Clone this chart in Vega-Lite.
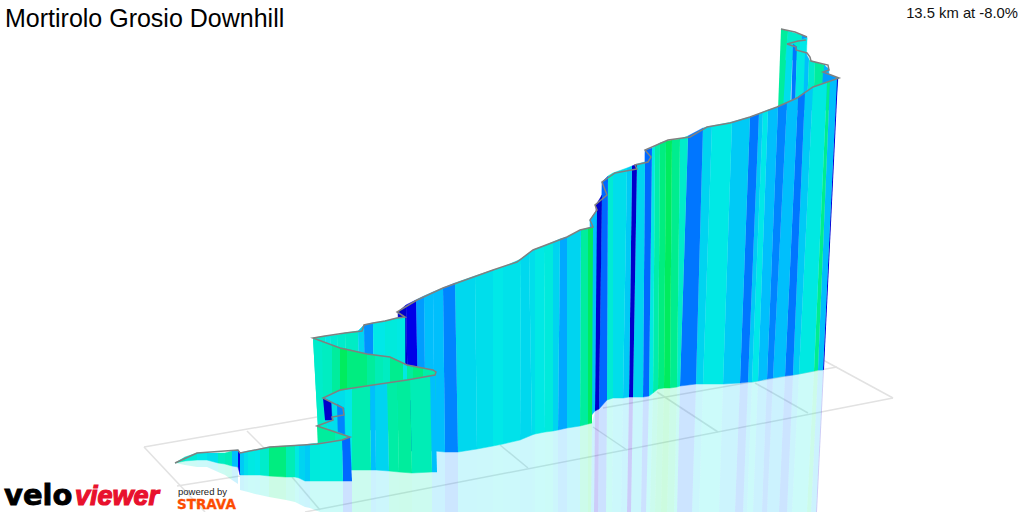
{
"$schema":"https://vega.github.io/schema/vega-lite/v6.json",
"width":1024,"height":512,"padding":0,"autosize":{"type":"none"},"background":"white",
"view":{"stroke":null},
"config":{"font":"Liberation Sans"},
"datasets":{
"grid":[
{"x":144,"y":447,"x2":317,"y2":417},{"x":144,"y":447,"x2":205,"y2":512},{"x":177,"y":486,"x2":240,"y2":476},{"x":247,"y":431,"x2":267,"y2":451},{"x":292,"y":477,"x2":320,"y2":510},
{"x":893,"y":398,"x2":305,"y2":512},{"x":893,"y":398,"x2":823,"y2":360},{"x":808,"y":413,"x2":755,"y2":383},{"x":718,"y":432,"x2":657,"y2":392},{"x":627,"y":450,"x2":593,"y2":427},{"x":528,"y":468,"x2":500,"y2":445},{"x":603,"y":408,"x2":837,"y2":367}
],
"mirror":[
{"b":1,"g":-17,"x":[824,823,816,817],"y":[369,370,512,512]},
{"b":2,"g":-9.5,"x":[823,818,811,816],"y":[370,370,512,512]},
{"b":3,"g":-3,"x":[818,814,807,811],"y":[370,371,512,512]},
{"b":4,"g":-7,"x":[814,799,792,807],"y":[371,374,512,512]},
{"b":5,"g":-9,"x":[799,793,787,792],"y":[374,375,512,512]},
{"b":6,"g":-12.5,"x":[793,785,779,787],"y":[375,376,512,512]},
{"b":7,"g":-9.5,"x":[785,773,767,779],"y":[376,378,512,512]},
{"b":8,"g":-12,"x":[773,767,762,767],"y":[378,379,512,512]},
{"b":9,"g":-9.5,"x":[767,758,753,762],"y":[379,381,512,512]},
{"b":10,"g":-7.5,"x":[758,752,747,753],"y":[381,382,512,512]},
{"b":11,"g":-9,"x":[752,748,743,747],"y":[382,382,512,512]},
{"b":12,"g":-12.5,"x":[748,740,735,743],"y":[382,383,512,512]},
{"b":13,"g":-9,"x":[740,723,719,735],"y":[383,384,512,512]},
{"b":14,"g":-7.2,"x":[723,703,699,719],"y":[384,384,512,512]},
{"b":15,"g":-8.5,"x":[703,696,692,699],"y":[384,384,512,512]},
{"b":16,"g":-12.5,"x":[696,680,677,692],"y":[384,386,512,512]},
{"b":17,"g":-5.5,"x":[680,677,674,677],"y":[386,387,512,512]},
{"b":18,"g":-3,"x":[677,670,667,674],"y":[387,388,512,512]},
{"b":19,"g":-1.5,"x":[670,664,661,667],"y":[388,388,512,512]},
{"b":20,"g":-2.5,"x":[664,658,655,661],"y":[388,389,512,512]},
{"b":21,"g":-4,"x":[658,653,650,655],"y":[389,393,512,512]},
{"b":22,"g":-7,"x":[653,649,646,650],"y":[393,396,512,512]},
{"b":23,"g":-13,"x":[649,643,641,646],"y":[396,397,512,512]},
{"b":24,"g":-8.5,"x":[643,633,631,641],"y":[397,397,512,512]},
{"b":25,"g":-15.5,"x":[633,629,627,631],"y":[397,397,512,512]},
{"b":26,"g":-9,"x":[629,623,621,627],"y":[397,398,512,512]},
{"b":27,"g":-8,"x":[623,613,612,621],"y":[398,398,512,512]},
{"b":28,"g":-6,"x":[613,607,606,612],"y":[398,400,512,512]},
{"b":29,"g":-13,"x":[607,599,598,606],"y":[400,409,512,512]},
{"b":30,"g":-16,"x":[599,595,594,598],"y":[409,411,512,512]},
{"b":31,"g":-9.5,"x":[595,592,591,594],"y":[411,423,512,512]},
{"b":32,"g":-1.5,"x":[592,588,588,591],"y":[423,424,512,512]},
{"b":33,"g":-3.5,"x":[588,580,580,588],"y":[424,426,512,512]},
{"b":34,"g":-8.5,"x":[580,567,567,580],"y":[426,428,512,512]},
{"b":35,"g":-10.5,"x":[567,558,558,567],"y":[428,430,512,512]},
{"b":36,"g":-8.5,"x":[558,553,553,558],"y":[430,431,512,512]},
{"b":37,"g":-6.5,"x":[553,545,545,553],"y":[431,432,512,512]},
{"b":38,"g":-7.2,"x":[545,535,535,545],"y":[432,434,512,512]},
{"b":39,"g":-8,"x":[535,532,532,535],"y":[434,435,512,512]},
{"b":40,"g":-8.3,"x":[532,520,520,532],"y":[435,440,512,512]},
{"b":41,"g":-7.8,"x":[520,503,503,520],"y":[440,444,512,512]},
{"b":42,"g":-7.5,"x":[503,493,493,503],"y":[444,446,512,512]},
{"b":43,"g":-8,"x":[493,477,477,493],"y":[446,449,512,512]},
{"b":44,"g":-8.3,"x":[477,458,458,477],"y":[449,452,512,512]},
{"b":45,"g":-12,"x":[458,445,445,458],"y":[452,452,512,512]},
{"b":46,"g":-9.5,"x":[445,437,437,445],"y":[452,451,512,512]},
{"b":47,"g":-9.5,"x":[437,432,432,437],"y":[472,472,512,512]},
{"b":48,"g":-4.5,"x":[432,412,412,432],"y":[472,473,512,512]},
{"b":49,"g":-3.5,"x":[412,399,399,412],"y":[473,472,512,512]},
{"b":50,"g":-3.8,"x":[399,389,389,399],"y":[472,471,512,512]},
{"b":51,"g":-8.5,"x":[389,376,376,389],"y":[471,470,512,512]},
{"b":52,"g":-9.5,"x":[376,371,371,376],"y":[470,470,512,512]},
{"b":53,"g":-4.3,"x":[371,352,352,371],"y":[470,470,512,512]},
{"b":54,"g":-13,"x":[352,343,343,352],"y":[481,481,512,512]},
{"b":55,"g":-6.5,"x":[343,330,330,343],"y":[481,481,512,512]},
{"b":56,"g":-7,"x":[330,320,320,330],"y":[481,481,512,512]},
{"b":57,"g":-6.5,"x":[320,310,310,320],"y":[481,481,508,512]},
{"b":58,"g":-9,"x":[310,305,305,310],"y":[481,481,507,508]},
{"b":59,"g":-8.5,"x":[305,299,299,305],"y":[481,478,504,507]},
{"b":60,"g":-7,"x":[299,295,295,299],"y":[478,477,502,504]},
{"b":61,"g":-4.5,"x":[295,286,286,295],"y":[477,477,500,502]},
{"b":62,"g":-2.5,"x":[286,269,269,286],"y":[477,476,497,500]},
{"b":63,"g":-5.5,"x":[269,260,260,269],"y":[476,475,495,497]},
{"b":64,"g":-7.5,"x":[260,255,255,260],"y":[475,475,494,495]},
{"b":65,"g":-7,"x":[255,248,248,255],"y":[475,475,492,494]},
{"b":66,"g":-8,"x":[248,244,244,248],"y":[475,475,491,492]},
{"b":67,"g":-9,"x":[244,240,240,244],"y":[475,475,490,491]},
{"b":68,"g":-9.5,"x":[238,232,232,238],"y":[467,466,480,484]},
{"b":69,"g":-4.5,"x":[232,225,225,232],"y":[466,464,475,480]},
{"b":70,"g":-5,"x":[225,218,218,225],"y":[464,463,472,475]},
{"b":71,"g":-8,"x":[218,207,207,218],"y":[463,460,467,472]},
{"b":72,"g":-7.5,"x":[207,197,197,207],"y":[460,460,467,467]},
{"b":73,"g":-6,"x":[197,185,185,197],"y":[460,461,465,467]},
{"b":74,"g":-5,"x":[185,175,175,185],"y":[461,463,463,465]}
],
"walls":[
{"b":1,"g":-3.5,"x":[781,788,785,778],"y":[29,31,110,110]},
{"b":2,"g":-5.5,"x":[788,802,801,785],"y":[31,35,60,60]},
{"b":3,"g":-11,"x":[802,807,806,801],"y":[35,37,45,45]},
{"b":4,"g":-7.5,"x":[800,807,805,798],"y":[40,38,100,100]},
{"b":5,"g":-8,"x":[787,793,790,783],"y":[43,44,110,110]},
{"b":6,"g":-12.5,"x":[793,797,795,791],"y":[44,47,110,110]},
{"b":7,"g":-7,"x":[797,805,803,795],"y":[47,52,110,110]},
{"b":8,"g":-9.5,"x":[805,809,807,803],"y":[52,59,110,110]},
{"b":9,"g":-5.5,"x":[809,815,813,807],"y":[60,62,110,110]},
{"b":10,"g":-3.5,"x":[815,825,823,813],"y":[62,65,110,110]},
{"b":11,"g":-10,"x":[824,829,827,822],"y":[65,69,110,110]},
{"b":12,"g":-11,"x":[823,838,835,821],"y":[72,78,110,110]},
{"b":20,"g":-17,"x":[838,837,823,824],"y":[78,78,370,369]},
{"b":21,"g":-9.5,"x":[837,830,818,823],"y":[78,81,370,370]},
{"b":22,"g":-3,"x":[830,827,814,818],"y":[81,82,371,370]},
{"b":23,"g":-7,"x":[827,813,799,814],"y":[82,87,374,371]},
{"b":24,"g":-9,"x":[813,805,793,799],"y":[87,92,375,374]},
{"b":25,"g":-12.5,"x":[805,798,785,793],"y":[92,97,376,375]},
{"b":26,"g":-9.5,"x":[798,787,773,785],"y":[97,103,378,376]},
{"b":27,"g":-12,"x":[787,778,767,773],"y":[103,107,379,378]},
{"b":28,"g":-9.5,"x":[778,768,758,767],"y":[107,110,381,379]},
{"b":29,"g":-7.5,"x":[768,763,752,758],"y":[110,112,382,381]},
{"b":30,"g":-9,"x":[763,759,748,752],"y":[112,114,382,382]},
{"b":31,"g":-12.5,"x":[759,750,740,748],"y":[114,117,383,382]},
{"b":32,"g":-9,"x":[750,732,723,740],"y":[117,122,384,383]},
{"b":33,"g":-7.2,"x":[732,712,703,723],"y":[122,126,384,384]},
{"b":34,"g":-8.5,"x":[712,703,696,703],"y":[126,128,384,384]},
{"b":35,"g":-12.5,"x":[703,688,680,696],"y":[128,136,386,384]},
{"b":36,"g":-5.5,"x":[688,680,677,680],"y":[136,139,387,386]},
{"b":37,"g":-3,"x":[680,672,670,677],"y":[139,140,388,387]},
{"b":38,"g":-1.5,"x":[672,666,664,670],"y":[140,141,388,388]},
{"b":39,"g":-2.5,"x":[666,660,658,664],"y":[141,143,389,388]},
{"b":40,"g":-4,"x":[660,655,653,658],"y":[143,146,393,389]},
{"b":41,"g":-7,"x":[655,652,649,653],"y":[146,148,396,393]},
{"b":42,"g":-13,"x":[652,645,643,649],"y":[148,150,397,396]},
{"b":43,"g":-8.5,"x":[645,637,633,643],"y":[162,164,397,397]},
{"b":44,"g":-18,"x":[637,632,629,633],"y":[164,166,397,397]},
{"b":45,"g":-9,"x":[632,627,623,629],"y":[166,168,398,397]},
{"b":46,"g":-8,"x":[627,613,613,623],"y":[168,173,398,398]},
{"b":47,"g":-6,"x":[613,608,607,613],"y":[173,176,400,398]},
{"b":48,"g":-13,"x":[608,602,599,607],"y":[176,182,409,400]},
{"b":49,"g":-18,"x":[602,596,595,599],"y":[195,205,411,409]},
{"b":50,"g":-9.5,"x":[597,590,590,595],"y":[210,220,417,411]},
{"b":51,"g":-1.5,"x":[593,588,588,592],"y":[227,228,424,423]},
{"b":52,"g":-3.5,"x":[588,581,580,588],"y":[228,230,426,424]},
{"b":53,"g":-8.5,"x":[581,567,567,580],"y":[230,237,428,426]},
{"b":54,"g":-10.5,"x":[567,560,558,567],"y":[237,239,430,428]},
{"b":55,"g":-8.5,"x":[560,553,553,558],"y":[239,242,431,430]},
{"b":56,"g":-6.5,"x":[553,544,545,553],"y":[242,246,432,431]},
{"b":57,"g":-7.2,"x":[544,535,535,545],"y":[246,249,434,432]},
{"b":58,"g":-8,"x":[535,529,532,535],"y":[249,253,435,434]},
{"b":59,"g":-8.3,"x":[529,521,520,532],"y":[253,259,440,435]},
{"b":60,"g":-7.8,"x":[521,503,503,520],"y":[259,267,444,440]},
{"b":61,"g":-7.5,"x":[503,493,493,503],"y":[267,270,446,444]},
{"b":62,"g":-8,"x":[493,475,477,493],"y":[270,276,449,446]},
{"b":63,"g":-8.3,"x":[475,455,458,477],"y":[276,283,452,449]},
{"b":64,"g":-12,"x":[455,443,445,458],"y":[283,288,452,452]},
{"b":65,"g":-9.5,"x":[443,433,435,445],"y":[288,292,451,452]},
{"b":66,"g":-9.5,"x":[433,424,426,435],"y":[292,296,451,451]},
{"b":67,"g":-11,"x":[424,416,419,426],"y":[296,300,451,451]},
{"b":68,"g":-15,"x":[416,406,409,419],"y":[300,305,451,451]},
{"b":69,"g":-18,"x":[406,398,401,409],"y":[305,312,451,451]},
{"b":70,"g":-5.5,"x":[313,325,328,318],"y":[338,336,430,430]},
{"b":71,"g":-7.5,"x":[325,330,333,328],"y":[336,335.5,430,430]},
{"b":72,"g":-6,"x":[330,337,339,333],"y":[335.5,335,430,430]},
{"b":73,"g":-5.5,"x":[337,345,347,339],"y":[335,333,430,430]},
{"b":74,"g":-5.2,"x":[345,358,360,347],"y":[333,331,430,430]},
{"b":75,"g":-8.5,"x":[358,364,365,360],"y":[331,325,430,430]},
{"b":76,"g":-11.5,"x":[364,373,374,365],"y":[325,323,430,430]},
{"b":77,"g":-7.5,"x":[373,385,385,374],"y":[323,321,430,430]},
{"b":78,"g":-6.5,"x":[385,397,397,385],"y":[321,318,430,430]},
{"b":79,"g":-7,"x":[397,405,405,397],"y":[318,317,430,430]},
{"b":80,"g":-5.5,"x":[313,322,323,318],"y":[338,342,428,428]},
{"b":81,"g":-5,"x":[322,332,332,323],"y":[342,345,400,400]},
{"b":82,"g":-3.5,"x":[332,340,340,332],"y":[345,348,400,400]},
{"b":83,"g":-1.5,"x":[340,347,347,340],"y":[348,349,400,400]},
{"b":84,"g":-2.5,"x":[347,367,367,347],"y":[349,354,400,400]},
{"b":85,"g":-3.5,"x":[367,375,375,367],"y":[354,355,400,400]},
{"b":86,"g":-4.5,"x":[375,383,383,375],"y":[355,356,400,400]},
{"b":87,"g":-5,"x":[383,390,390,383],"y":[356,357,400,400]},
{"b":88,"g":-3,"x":[390,403,403,390],"y":[357,363,400,400]},
{"b":89,"g":-7,"x":[403,407,407,403],"y":[363,365,400,400]},
{"b":90,"g":-3.5,"x":[407,413,413,407],"y":[365,366,400,400]},
{"b":91,"g":-2.5,"x":[413,423,423,413],"y":[366,368,400,400]},
{"b":92,"g":-4,"x":[423,435,435,423],"y":[368,372,400,400]},
{"b":100,"g":-9.5,"x":[435,430,432,437],"y":[375,376,472,472]},
{"b":101,"g":-4.5,"x":[430,410,412,432],"y":[376,379,473,472]},
{"b":102,"g":-3.5,"x":[410,397,399,412],"y":[379,381,472,473]},
{"b":103,"g":-3.8,"x":[397,387,389,399],"y":[381,383,471,472]},
{"b":104,"g":-8.5,"x":[387,375,376,389],"y":[383,385,470,471]},
{"b":105,"g":-9.5,"x":[375,370,371,376],"y":[385,386,470,470]},
{"b":106,"g":-4.3,"x":[370,352,352,371],"y":[386,388,470,470]},
{"b":107,"g":-7.5,"x":[352,345,345,352],"y":[388,390,470,470]},
{"b":108,"g":-8,"x":[345,333,333,345],"y":[390,393,440,440]},
{"b":109,"g":-8,"x":[333,323,325,333],"y":[393,398,420,440]},
{"b":110,"g":-18,"x":[323,331,332,325],"y":[398,402,420,420]},
{"b":111,"g":-12,"x":[337,344,345,338],"y":[404,408,440,440]},
{"b":112,"g":-3.5,"x":[317,335,335,318],"y":[426,431,450,450]},
{"b":113,"g":-4.5,"x":[335,350,350,335],"y":[431,437,450,450]},
{"b":120,"g":-13,"x":[350,342,343,352],"y":[437,440,481,481]},
{"b":121,"g":-6.5,"x":[342,330,330,343],"y":[440,441,481,481]},
{"b":122,"g":-7,"x":[330,320,320,330],"y":[441,443,481,481]},
{"b":123,"g":-6.5,"x":[320,310,310,320],"y":[443,444,481,481]},
{"b":124,"g":-9,"x":[310,305,305,310],"y":[444,445,481,481]},
{"b":125,"g":-8.5,"x":[305,299,299,305],"y":[445,445,478,481]},
{"b":126,"g":-7,"x":[299,295,295,299],"y":[445,445.5,477,478]},
{"b":127,"g":-4.5,"x":[295,286,286,295],"y":[445.5,446,477,477]},
{"b":128,"g":-2.5,"x":[286,269,269,286],"y":[446,447,476,477]},
{"b":129,"g":-5.5,"x":[269,260,260,269],"y":[447,449,475,476]},
{"b":130,"g":-7.5,"x":[260,255,255,260],"y":[449,450,475,475]},
{"b":131,"g":-7,"x":[255,248,248,255],"y":[450,451,475,475]},
{"b":132,"g":-8,"x":[248,244,244,248],"y":[451,452,475,475]},
{"b":133,"g":-9,"x":[244,240,240,244],"y":[452,453,475,475]},
{"b":134,"g":-15,"x":[240,238,238,240],"y":[453,450,467,475]},
{"b":135,"g":-9.5,"x":[238,232,232,238],"y":[450,451,466,467]},
{"b":136,"g":-4.5,"x":[232,225,225,232],"y":[451,453,464,466]},
{"b":137,"g":-5,"x":[225,218,218,225],"y":[453,453,463,464]},
{"b":138,"g":-8,"x":[218,207,207,218],"y":[453,453,460,463]},
{"b":139,"g":-7.5,"x":[207,197,197,207],"y":[453,453,460,460]},
{"b":140,"g":-6,"x":[197,185,185,197],"y":[453,457,461,460]},
{"b":141,"g":-5,"x":[185,175,175,185],"y":[457,463,463,461]}
],
"ridge":[
{"r":1,"x":[781,795,807],"y":[29,32,37]},
{"r":2,"x":[787,798,806],"y":[44,41,40]},
{"r":3,"x":[787,796,796,807,810,811,828,829,823,839,813,797,777,750,730,707,690,668,645,651,648,635,637,615,602,607,595,597,590,593,580,567,533,517,493,443,417,397,405,397,385,373,364,362,345,325,313,340,367,390,407,433,436,435,407,373,340,323,343,344,332,333,317,350,342,317,303,270,240,238,197,175],
"y":[44,47,50,53,57,61,65,70,72,78,87,98,107,117,123,127,137,140,150,157,162,165,169,173,182,195,205,210,220,227,230,237,250,262,270,288,300,312,317,318,321,323,325,331,333,336,338,348,354,357,365,370,372,375,380,385,390,398,408,415,417,420,426,437,440,444,445,447,453,450,453,463]}
],
"bar":[
{"g":-25,"g2":-24},{"g":-24,"g2":-23},{"g":-23,"g2":-22},{"g":-22,"g2":-21},{"g":-21,"g2":-20},{"g":-20,"g2":-19},{"g":-19,"g2":-18},{"g":-18,"g2":-17},{"g":-17,"g2":-16},{"g":-16,"g2":-15},
{"g":-15,"g2":-14},{"g":-14,"g2":-13},{"g":-13,"g2":-12},{"g":-12,"g2":-11},{"g":-11,"g2":-10},{"g":-10,"g2":-9},{"g":-9,"g2":-8},{"g":-8,"g2":-7},{"g":-7,"g2":-6},{"g":-6,"g2":-5},
{"g":-5,"g2":-4},{"g":-4,"g2":-3},{"g":-3,"g2":-2},{"g":-2,"g2":-1},{"g":-1,"g2":0},{"g":0,"g2":1},{"g":1,"g2":2},{"g":2,"g2":3},{"g":3,"g2":4},{"g":4,"g2":5},
{"g":5,"g2":6},{"g":6,"g2":7},{"g":7,"g2":8},{"g":8,"g2":9},{"g":9,"g2":10},{"g":10,"g2":11},{"g":11,"g2":12},{"g":12,"g2":13},{"g":13,"g2":14},{"g":14,"g2":15},
{"g":15,"g2":16},{"g":16,"g2":17},{"g":17,"g2":18},{"g":18,"g2":19},{"g":19,"g2":20},{"g":20,"g2":21},{"g":21,"g2":22},{"g":22,"g2":23},{"g":23,"g2":24},{"g":24,"g2":25}
]
},
"resolve":{"scale":{"y":"independent"}},
"encoding":{
"x":{"field":"x","type":"quantitative","axis":null,"scale":{"domain":[0,1024],"nice":false,"zero":false}},
"y":{"field":"y","type":"quantitative","axis":null,"scale":{"domain":[512,0],"nice":false,"zero":false}}
},
"layer":[
{"data":{"name":"grid"},"mark":{"type":"rule","color":"#e2e2e2","strokeWidth":1.5,"clip":true},
"encoding":{"x2":{"field":"x2"},"y2":{"field":"y2"}}},
{"data":{"name":"mirror"},"transform":[{"flatten":["x","y"]}],
"mark":{"type":"line","opacity":0.2,"strokeWidth":0,"clip":true},
"encoding":{"order":{"value":null},"detail":{"field":"b","type":"nominal"},
"fill":{"field":"g","type":"quantitative","legend":null,"scale":{"domain":[-25,-15,-7.5,0,7.5,15,25],"range":["#00008b","#0000e8","#00e8e8","#00e800","#e8e800","#e80000","#8b0000"]}}}},
{"data":{"name":"walls"},"transform":[{"filter":"datum.b < 80"},{"flatten":["x","y"]}],
"mark":{"type":"line","strokeWidth":0.5,"clip":true},
"encoding":{"order":{"value":null},"detail":{"field":"b","type":"nominal"},
"fill":{"field":"g","type":"quantitative","legend":null,"scale":{"domain":[-25,-15,-7.5,0,7.5,15,25],"range":["#00008b","#0000e8","#00e8e8","#00e800","#e8e800","#e80000","#8b0000"]}},
"stroke":{"field":"g","type":"quantitative","legend":null,"scale":{"domain":[-25,-15,-7.5,0,7.5,15,25],"range":["#00008b","#0000e8","#00e8e8","#00e800","#e8e800","#e80000","#8b0000"]}}}},
{"data":{"name":"walls"},"transform":[{"filter":"datum.b >= 80 && datum.b < 100"},{"flatten":["x","y"]}],
"mark":{"type":"line","strokeWidth":0.5,"clip":true},
"encoding":{"order":{"value":null},"detail":{"field":"b","type":"nominal"},
"fill":{"field":"g","type":"quantitative","legend":null,"scale":{"domain":[-25,-15,-7.5,0,7.5,15,25],"range":["#00006b","#0000b8","#00b8b0","#00c800","#c8c800","#c80000","#6b0000"]}},
"stroke":{"field":"g","type":"quantitative","legend":null,"scale":{"domain":[-25,-15,-7.5,0,7.5,15,25],"range":["#00006b","#0000b8","#00b8b0","#00c800","#c8c800","#c80000","#6b0000"]}}}},
{"data":{"name":"walls"},"transform":[{"filter":"datum.b >= 100"},{"flatten":["x","y"]}],
"mark":{"type":"line","strokeWidth":0.5,"clip":true},
"encoding":{"order":{"value":null},"detail":{"field":"b","type":"nominal"},
"fill":{"field":"g","type":"quantitative","legend":null,"scale":{"domain":[-25,-15,-7.5,0,7.5,15,25],"range":["#00008b","#0000e8","#00e8e8","#00e800","#e8e800","#e80000","#8b0000"]}},
"stroke":{"field":"g","type":"quantitative","legend":null,"scale":{"domain":[-25,-15,-7.5,0,7.5,15,25],"range":["#00008b","#0000e8","#00e8e8","#00e800","#e8e800","#e80000","#8b0000"]}}}},
{"data":{"name":"ridge"},"transform":[{"flatten":["x","y"]}],
"mark":{"type":"line","color":"#808080","strokeWidth":1.5,"clip":true},
"encoding":{"order":{"value":null},"detail":{"field":"r","type":"nominal"}}},
{"data":{"name":"bar"},"mark":{"type":"rect"},
"encoding":{
"x":{"datum":1012,"type":"quantitative","axis":null,"scale":{"domain":[0,1024],"nice":false,"zero":false}},
"x2":{"datum":1023},
"y":{"field":"g","type":"quantitative","axis":null,"scale":{"domain":[-25,25],"range":[504,405],"nice":false,"zero":false}},
"y2":{"field":"g2"},
"color":{"field":"g","type":"quantitative","legend":null,"scale":{"domain":[-25,-15,-7.5,0,7.5,15,25],"range":["#00008b","#0000ff","#00ffff","#00ff00","#ffff00","#ff0000","#8b0000"]}}}},
{"data":{"values":[{"g":25,"t":"25%"},{"g":15,"t":"15%"},{"g":7.5,"t":"7.5%"},{"g":0,"t":"0%"},{"g":-7.5,"t":"-7.5%"},{"g":-15,"t":"-15%"},{"g":-25,"t":"(Grid: 1 km) -25%"}]},
"mark":{"type":"text","align":"right","baseline":"middle","fontSize":10,"color":"#222222"},
"encoding":{
"x":{"datum":1007,"type":"quantitative","axis":null,"scale":{"domain":[0,1024],"nice":false,"zero":false}},
"y":{"field":"g","type":"quantitative","axis":null,"scale":{"domain":[-25,25],"range":[504,405],"nice":false,"zero":false}},
"text":{"field":"t"}}},
{"data":{"values":[{"x":5,"y":27,"t":"Mortirolo Grosio Downhill"}]},
"mark":{"type":"text","align":"left","baseline":"alphabetic","fontSize":25,"color":"#000000"},"encoding":{"text":{"field":"t"}}},
{"data":{"values":[{"x":1018,"y":18,"t":"13.5 km at -8.0%"}]},
"mark":{"type":"text","align":"right","baseline":"alphabetic","fontSize":14.8,"color":"#111111"},"encoding":{"text":{"field":"t"}}},
{"data":{"values":[{"x":4,"y":505,"t":"velo"}]},
"mark":{"type":"text","align":"left","baseline":"alphabetic","font":"DejaVu Sans","fontWeight":"bold","fontSize":29,"color":"#000000","stroke":"#000000","strokeWidth":0.8},"encoding":{"text":{"field":"t"}}},
{"data":{"values":[{"x":75,"y":505,"t":"viewer"}]},
"mark":{"type":"text","align":"left","baseline":"alphabetic","fontWeight":"bold","fontStyle":"italic","fontSize":27,"color":"#e8112d","stroke":"#e8112d","strokeWidth":1.2},"encoding":{"text":{"field":"t"}}},
{"data":{"values":[{"x":178,"y":495,"t":"powered by"}]},
"mark":{"type":"text","align":"left","baseline":"alphabetic","fontSize":9.5,"color":"#222222"},"encoding":{"text":{"field":"t"}}},
{"data":{"values":[{"x":177,"y":509,"t":"STRAVA"}]},
"mark":{"type":"text","align":"left","baseline":"alphabetic","font":"DejaVu Sans","fontWeight":"bold","fontSize":13.5,"color":"#fc4c02","stroke":"#fc4c02","strokeWidth":0.3},"encoding":{"text":{"field":"t"}}}
]
}
